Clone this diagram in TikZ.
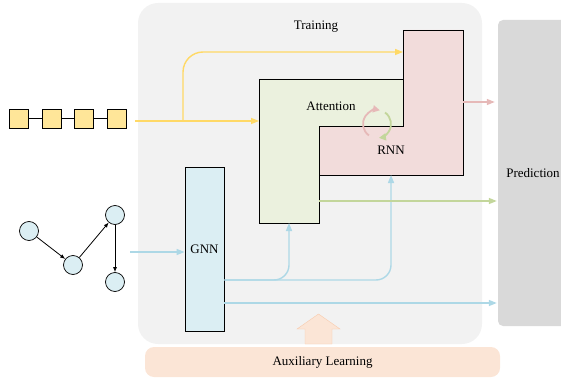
\documentclass[tikz,border=0pt]{standalone}
\usepackage{xcolor}
\usepackage{fontspec}
\setmainfont{Liberation Serif}
\usepackage{tikz}
\usetikzlibrary{arrows.meta,positioning,calc}

\definecolor{traingray}{HTML}{F2F2F2}
\definecolor{predgray}{HTML}{D9D9D9}
\definecolor{attfill}{HTML}{EBF1DE}
\definecolor{attline}{HTML}{C3D69B}
\definecolor{rnnfill}{HTML}{F2DCDB}
\definecolor{rnnline}{HTML}{E6B9B8}
\definecolor{gnnfill}{HTML}{DBEEF3}
\definecolor{gnnline}{HTML}{ADD8E6}
\definecolor{seqline}{HTML}{FFD966}
\definecolor{seqfill}{HTML}{FFE699}
\definecolor{auxfill}{HTML}{FBE5D6}
\definecolor{auxline}{HTML}{F8CBAD}

\tikzset{
	flow/.style={line width=1.4pt, -{Triangle[length=8pt,width=6pt]}},
	seqbox/.style={draw, line width=0.8pt, fill=seqfill, minimum size=19pt, inner sep=0pt},
	vertex/.style={draw, line width=0.7pt, circle, fill=gnnfill, minimum size=19pt, inner sep=0pt},
	edge/.style={thick, -{Latex[length=5pt,width=4pt]}},
	cycle/.style={line width=1.8pt, -{Triangle[length=7pt,width=7pt]}}
}

\begin{document}
\begin{tikzpicture}[x=1pt, y=-1pt, font=\fontsize{13}{15}\selectfont]
\useasboundingbox (0,0) rectangle (561,382);
\clip (0,0) rectangle (561,382);

\fill[traingray, rounded corners=20pt] (138,3) rectangle (482,344);
\node (train) at (316,27) {Training};
\node[fill=predgray, rounded corners=5pt, minimum width=70pt, minimum height=306pt, inner sep=0pt] (pred) at (533,173) {Prediction};
\node[fill=auxfill, rounded corners=9pt, minimum width=355pt, minimum height=30pt] (aux) at (322.5,362) {Auxiliary Learning};
\draw[auxline, fill=auxfill] (305,344) -- (305,329) -- (297,329) -- (318.5,314) -- (340,329) -- (332,329) -- (332,344) -- cycle;

\draw[line width=0.8pt, fill=rnnfill] (403,30) -- (463,30) -- (463,175) -- (319,175) -- (319,126) -- (403,126) -- cycle;
\draw[line width=0.8pt, fill=attfill] (259,79) -- (403,79) -- (403,126) -- (319,126) -- (319,223) -- (259,223) -- cycle;
\node (att) at (331,106) {Attention};
\node (rnn) at (391,150) {RNN};
\draw[rnnline, cycle] ($(377,124)+(235:14pt)$) arc[start angle=235, end angle=78, radius=14pt];
\draw[attline, cycle] ($(377,124)+(55:14pt)$) arc[start angle=55, end angle=-82, radius=14pt];
\coordinate (attin) at (259,121);
\coordinate (rnnin) at (403,52);
\coordinate (attbot) at (289,223);
\coordinate (rnnbot) at (391,175);

\node[draw, line width=0.8pt, fill=gnnfill, minimum width=39pt, minimum height=164pt, inner sep=0pt] (gnn) at (204.5,249) {GNN};

\foreach \i in {1,...,4}
	\node[seqbox] (s\i) at ({19+32.5*(\i-1)},118.5) {};
\foreach \i/\j in {1/2,2/3,3/4}
	\draw[thick] (s\i) -- (s\j);
\coordinate (seqout) at (135,121);
\coordinate (split) at (183,121);
\draw[seqline, flow] (seqout) -- (attin);
\draw[seqline, flow, rounded corners=20pt] (split) |- (rnnin);

\node[vertex] (v1) at (29,231) {};
\node[vertex] (v2) at (73,265) {};
\node[vertex] (v3) at (115,215) {};
\node[vertex] (v4) at (115,282) {};
\draw[edge] (v1) -- (v2);
\draw[edge] (v2) -- (v3);
\draw[edge] (v3) -- (v4);
\coordinate (graphout) at (130,252);
\draw[gnnline, flow] (graphout) -- (gnn.west |- graphout);

\draw[gnnline, flow, rounded corners=15pt] (gnn.east |- 0,280) -| (attbot);
\draw[gnnline, flow, rounded corners=15pt] (gnn.east |- 0,280) -| (rnnbot);
\draw[gnnline, flow] (gnn.east |- 0,303) -- ($(pred.west |- 0,303)+(-1,0)$);
\draw[attline, flow] (319,201) -- ($(pred.west |- 0,201)+(-1,0)$);
\draw[rnnline, flow] (463,102) -- ($(pred.west |- 0,102)+(-3,0)$);
\end{tikzpicture}
\end{document}
